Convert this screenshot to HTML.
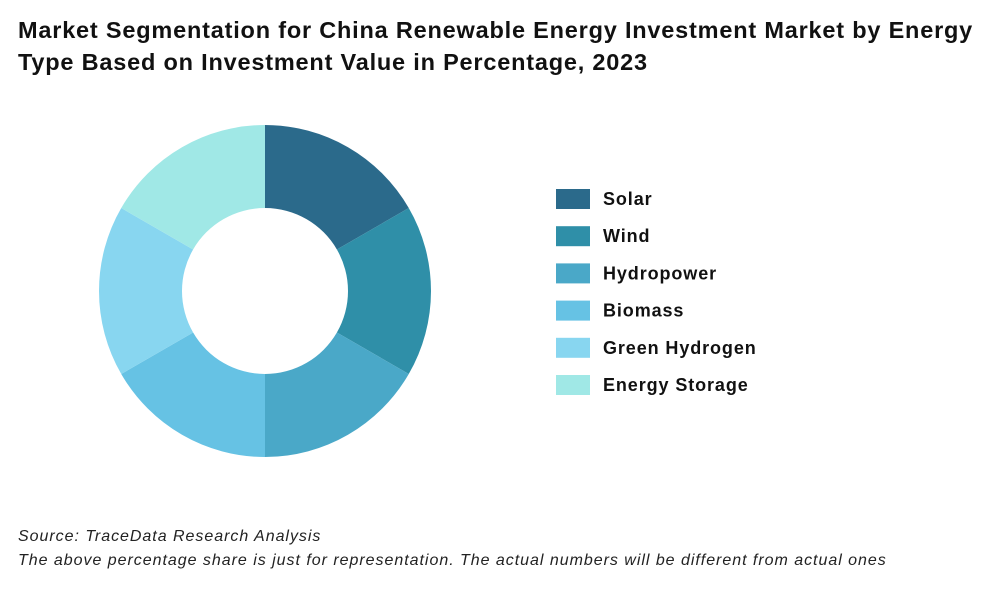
<!DOCTYPE html>
<html><head><meta charset="utf-8"><style>
body{margin:0;width:1000px;height:600px;background:#fff;font-family:"Liberation Sans",sans-serif;overflow:hidden;position:relative}
.t{position:absolute;left:18px;top:14px;font-size:23.5px;font-weight:bold;color:#111;line-height:32px;width:965px;letter-spacing:0.8px}
.f{position:absolute;left:18px;font-size:16px;font-style:italic;color:#222;letter-spacing:0.97px;white-space:nowrap}
</style></head><body>
<div class="t">Market Segmentation for China Renewable Energy Investment Market by Energy Type Based on Investment Value in Percentage, 2023</div>
<svg id="c" width="1000" height="600" style="position:absolute;left:0;top:0"></svg>
<div class="f" style="top:528px">Source: TraceData Research Analysis</div>
<div class="f" style="top:552px">The above percentage share is just for representation. The actual numbers will be different from actual ones</div>
<script>
const categories=["Solar","Wind","Hydropower","Biomass","Green Hydrogen","Energy Storage"];
const values=[16.67,16.67,16.67,16.67,16.67,16.67];
const colors=["#2b6a8b","#2f8fa8","#4aa8c8","#66c2e4","#88d6f0","#a0e8e6"];
const svg=document.getElementById('c'),NS="http://www.w3.org/2000/svg";
const cx=265,cy=291,R=166,r=83;
const total=values.reduce((a,b)=>a+b,0);
let a0=0;
function pt(a,rad){return [cx+rad*Math.sin(a),cy-rad*Math.cos(a)];}
values.forEach((v,i)=>{
  const a1=a0+v/total*2*Math.PI,lg=(a1-a0)>Math.PI?1:0;
  const [x1,y1]=pt(a0,R),[x2,y2]=pt(a1,R),[x3,y3]=pt(a1,r),[x4,y4]=pt(a0,r);
  const p=document.createElementNS(NS,'path');
  p.setAttribute('d',`M${x1},${y1}A${R},${R} 0 ${lg} 1 ${x2},${y2}L${x3},${y3}A${r},${r} 0 ${lg} 0 ${x4},${y4}Z`);
  p.setAttribute('fill',colors[i]);
  
  
  svg.appendChild(p);
  a0=a1;
  const y=199+i*37.2;
  const rc=document.createElementNS(NS,'rect');
  rc.setAttribute('x',556);rc.setAttribute('y',y-10);rc.setAttribute('width',34);rc.setAttribute('height',20);rc.setAttribute('fill',colors[i]);
  
  
  svg.appendChild(rc);
  const t=document.createElementNS(NS,'text');
  t.setAttribute('x',603);t.setAttribute('y',y+6);t.setAttribute('font-size','18');t.setAttribute('font-weight','bold');t.setAttribute('fill','#111');
  t.setAttribute('font-family','Liberation Sans, sans-serif');
  t.setAttribute('letter-spacing','0.9');
  t.textContent=categories[i];
  
  
  svg.appendChild(t);
});
</script>
</body></html>
